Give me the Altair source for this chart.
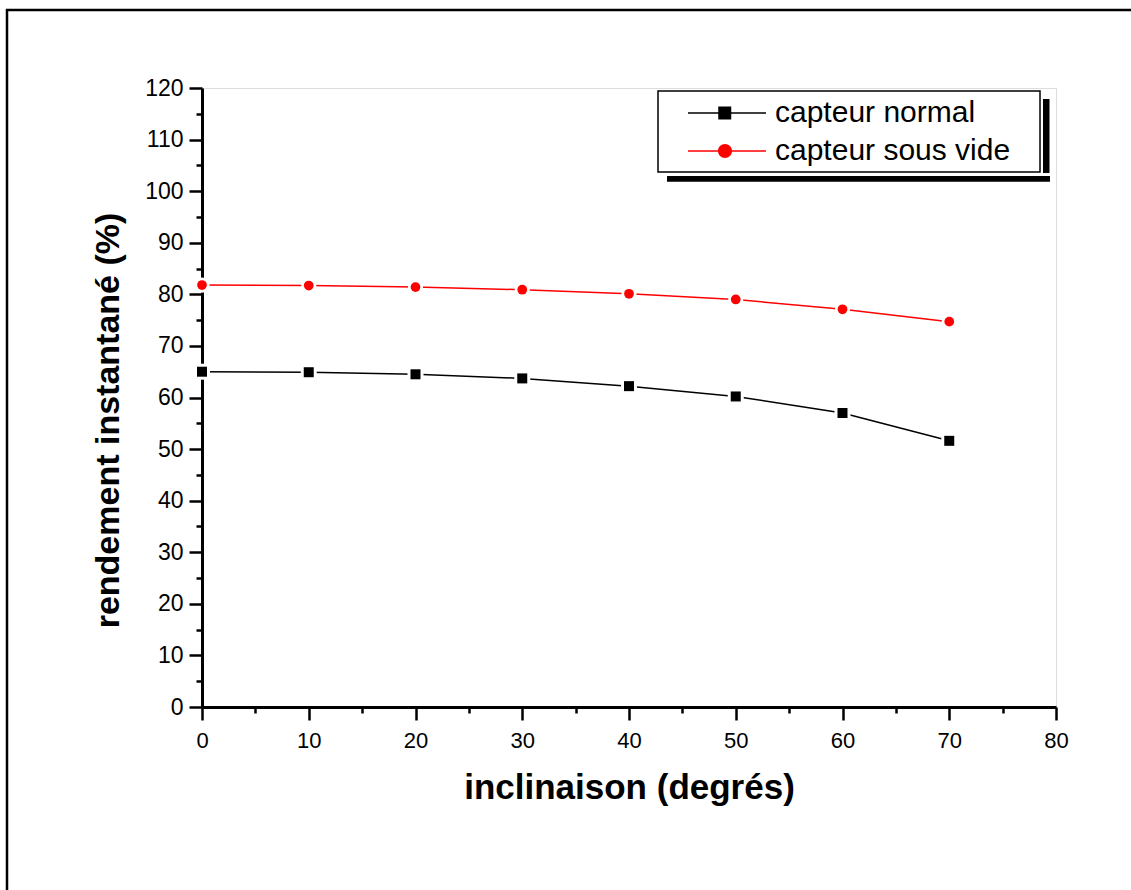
import altair as alt
import pandas as pd

# ---- data ----
inclinaison = [0, 10, 20, 30, 40, 50, 60, 70]
capteur_normal = [65.0, 64.9, 64.5, 63.7, 62.2, 60.2, 57.0, 51.6]
capteur_sous_vide = [81.8, 81.7, 81.4, 80.9, 80.1, 79.0, 77.1, 74.7]
series_names = ["capteur normal", "capteur sous vide"]
series_colors = ["#000000", "#ff0000"]
x_tick_values = list(range(0, 81, 5))
y_tick_values = list(range(0, 121, 5))

df = pd.DataFrame({
    "inclinaison": inclinaison * 2,
    "rendement": capteur_normal + capteur_sous_vide,
    "serie": [series_names[0]] * len(inclinaison) + [series_names[1]] * len(inclinaison),
})

FONT = "Liberation Sans"
major_test = "datum.value % 10 === 0"
tick_size = {"condition": {"test": major_test, "value": 13}, "value": 6}

x_axis = alt.Axis(
    values=x_tick_values, labelExpr=f"{major_test} ? datum.label : ''",
    tickSize=tick_size, tickWidth=2.5, tickColor="black",
    domainWidth=3, domainColor="black", grid=False,
    labelFont=FONT, labelFontSize=22, labelColor="black", labelPadding=10,
    labelOverlap=False, labelFlush=False,
    title="inclinaison (degrés)", titleFont=FONT, titleFontSize=35,
    titleFontWeight="bold", titleColor="black", titleY=91, titleBaseline="alphabetic",
)
y_axis = alt.Axis(
    values=y_tick_values, labelExpr=f"{major_test} ? datum.label : ''",
    tickSize=tick_size, tickWidth=2.5, tickColor="black",
    domainWidth=3, domainColor="black", grid=False,
    labelFont=FONT, labelFontSize=23, labelColor="black", labelPadding=6,
    labelOverlap=False, labelFlush=False,
    title="rendement instantané (%)", titleFont=FONT, titleFontSize=34,
    titleFontWeight="bold", titleColor="black", titleAngle=270,
    titleX=-94, titleY=332, titleBaseline="middle", titleAlign="center",
)

x_enc = alt.X("inclinaison:Q", scale=alt.Scale(domain=[0, 80], nice=False, zero=False), axis=x_axis)
y_enc = alt.Y("rendement:Q", scale=alt.Scale(domain=[0, 120], nice=False), axis=y_axis)

base = alt.Chart(df).encode(x=x_enc, y=y_enc)

layers = []
marker_shapes = ["square", "circle"]
marker_sizes = [100, 95]
halo_sizes = [256, 230]
for name, color in zip(series_names, series_colors):
    layers.append(base.transform_filter(alt.datum.serie == name)
                  .mark_line(color=color, strokeWidth=1.5))
for name, shp, hs in zip(series_names, marker_shapes, halo_sizes):
    layers.append(base.transform_filter(alt.datum.serie == name)
                  .mark_point(shape=shp, filled=True, color="white", opacity=1, size=hs))
for name, color, shp, sz in zip(series_names, series_colors, marker_shapes, marker_sizes):
    layers.append(base.transform_filter(alt.datum.serie == name)
                  .mark_point(shape=shp, filled=True, color=color, opacity=1, size=sz))

# legend symbols: line with marker (custom paths, unit = 15 px)
legend_square = "M0.533,-0.05H5.733V0.05H0.533Z M2.55,-0.433H3.416V0.433H2.55Z"
legend_circle = ("M0.533,-0.05H5.733V0.05H0.533Z "
                 "M3.467,0A0.467,0.467,0,1,1,2.533,0A0.467,0.467,0,1,1,3.467,0Z")
leg = alt.Legend(
    title=None, orient="none", legendX=456, legendY=3, padding=7,
    symbolSize=900, symbolStrokeWidth=0, symbolOpacity=1,
    labelFont=FONT, labelFontSize=30, labelColor="black", labelOffset=80,
    labelLimit=0, rowPadding=8,
)
legend_layer = base.mark_point(filled=True, opacity=0).encode(
    color=alt.Color("serie:N", scale=alt.Scale(domain=series_names, range=series_colors), legend=leg),
    shape=alt.Shape("serie:N", scale=alt.Scale(domain=series_names, range=[legend_square, legend_circle]), legend=leg),
)
layers.append(legend_layer)

one = alt.Data(values=[{"k": 1}])
# legend box with its shadow
legend_box = alt.Chart(one).mark_rect(fill="white", stroke="black", strokeWidth=1.5).encode(
    x=alt.value(456), x2=alt.value(838), y=alt.value(3), y2=alt.value(84))
shadow_right = alt.Chart(one).mark_rect(fill="black").encode(
    x=alt.value(841), x2=alt.value(847.5), y=alt.value(11), y2=alt.value(85))
shadow_bottom = alt.Chart(one).mark_rect(fill="black").encode(
    x=alt.value(465), x2=alt.value(848), y=alt.value(88), y2=alt.value(93.7))
# outer frame of the figure (only its top and left sides fall inside the picture)
frame_left = alt.Chart(one).mark_rule(color="black", strokeWidth=2.5).encode(
    x=alt.value(-195), y=alt.value(-79), y2=alt.value(810))
frame_top = alt.Chart(one).mark_rule(color="black", strokeWidth=2.5).encode(
    x=alt.value(-196), x2=alt.value(940), y=alt.value(-78))

chart = alt.layer(
    frame_left, frame_top, *layers, legend_box, shadow_right, shadow_bottom
).properties(
    width=854, height=619,
    autosize=alt.AutoSizeParams(type="none"),
    padding={"left": 202, "top": 88, "right": 75, "bottom": 183},
).configure_view(
    stroke="black", strokeWidth=1
).configure(background="white")

chart.save("out.html", embed_options={"renderer": "svg", "actions": False})
